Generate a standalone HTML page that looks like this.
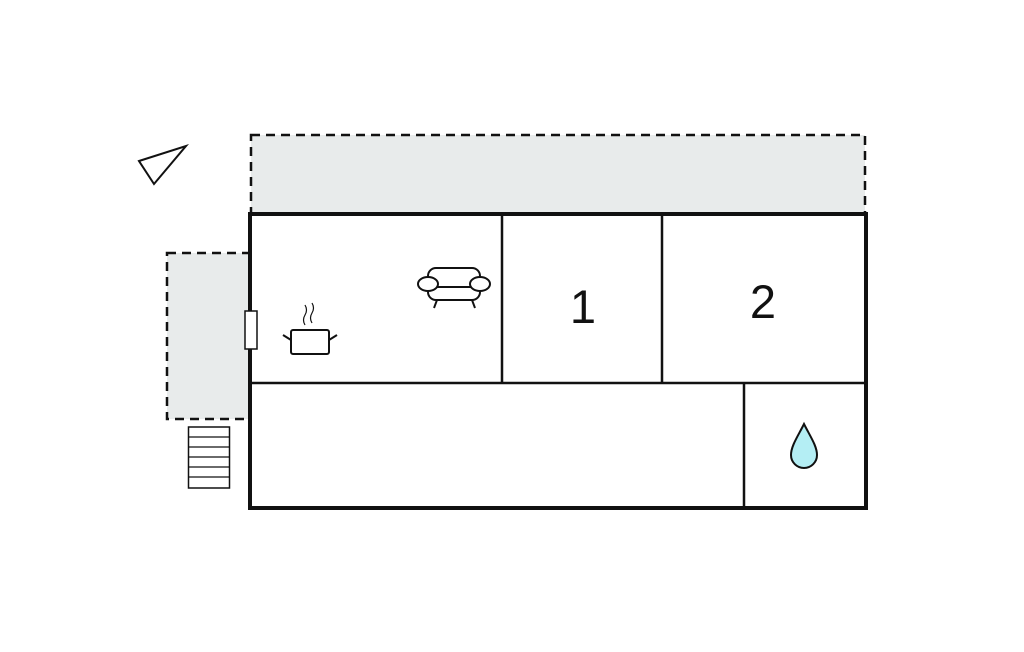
<!DOCTYPE html>
<html><head><style>html,body{margin:0;padding:0;background:#fff}svg{display:block}</style></head>
<body>
<svg width="1024" height="652" viewBox="0 0 1024 652" xmlns="http://www.w3.org/2000/svg">
<rect x="251" y="135" width="614" height="79" fill="#e8ebeb" stroke="#111" stroke-width="2.5" stroke-dasharray="9,6"/>
<rect x="167" y="253" width="83" height="166" fill="#e8ebeb" stroke="#111" stroke-width="2.5" stroke-dasharray="9,6"/>
<rect x="250" y="214" width="616" height="294" fill="#fff" stroke="#111" stroke-width="4"/>
<g stroke="#111" stroke-width="2.5" fill="none">
<line x1="502" y1="214" x2="502" y2="383"/>
<line x1="662" y1="214" x2="662" y2="383"/>
<line x1="250" y1="383" x2="866" y2="383"/>
<line x1="744" y1="383" x2="744" y2="508"/>
</g>
<rect x="245" y="311" width="12" height="38" fill="#fff" stroke="#111" stroke-width="1.5"/>
<rect x="188.5" y="427" width="41" height="61" fill="#fff" stroke="#111" stroke-width="1.5"/>
<g stroke="#111" stroke-width="1.2">
<line x1="188" y1="437" x2="230" y2="437"/><line x1="188" y1="447" x2="230" y2="447"/>
<line x1="188" y1="457" x2="230" y2="457"/><line x1="188" y1="467" x2="230" y2="467"/>
<line x1="188" y1="477" x2="230" y2="477"/>
</g>
<polygon points="139,161 186,146 154,184" fill="#fff" stroke="#111" stroke-width="2"/>
<g fill="#fff" stroke="#111" stroke-width="2">
<rect x="291" y="330" width="38" height="24" rx="2"/>
<line x1="283" y1="335" x2="291" y2="340"/><line x1="337" y1="335" x2="329" y2="340"/>
</g>
<g fill="none" stroke="#111" stroke-width="1.2">
<path d="M305 325 q-3 -5 0 -10 q3 -5 0 -10"/>
<path d="M312 323 q-3 -5 0 -10 q3 -5 0 -10"/>
</g>
<g fill="#fff" stroke="#111" stroke-width="2">
<line x1="437" y1="300" x2="434" y2="308"/><line x1="472" y1="300" x2="475" y2="308"/>
<rect x="428" y="268" width="52" height="32" rx="8"/>
<line x1="437" y1="287" x2="472" y2="287"/>
<ellipse cx="428" cy="284" rx="10" ry="7"/>
<ellipse cx="480" cy="284" rx="10" ry="7"/>
</g>
<text x="583" y="323" font-family="Liberation Sans, sans-serif" font-size="47" text-anchor="middle" fill="#111">1</text>
<text x="763" y="318" font-family="Liberation Sans, sans-serif" font-size="47" text-anchor="middle" fill="#111">2</text>
<path d="M804 424 C798 436 791 446 791 455 A13 13 0 0 0 817 455 C817 446 810 436 804 424 Z" fill="#b4eef4" stroke="#111" stroke-width="2"/>
</svg>
</body></html>
